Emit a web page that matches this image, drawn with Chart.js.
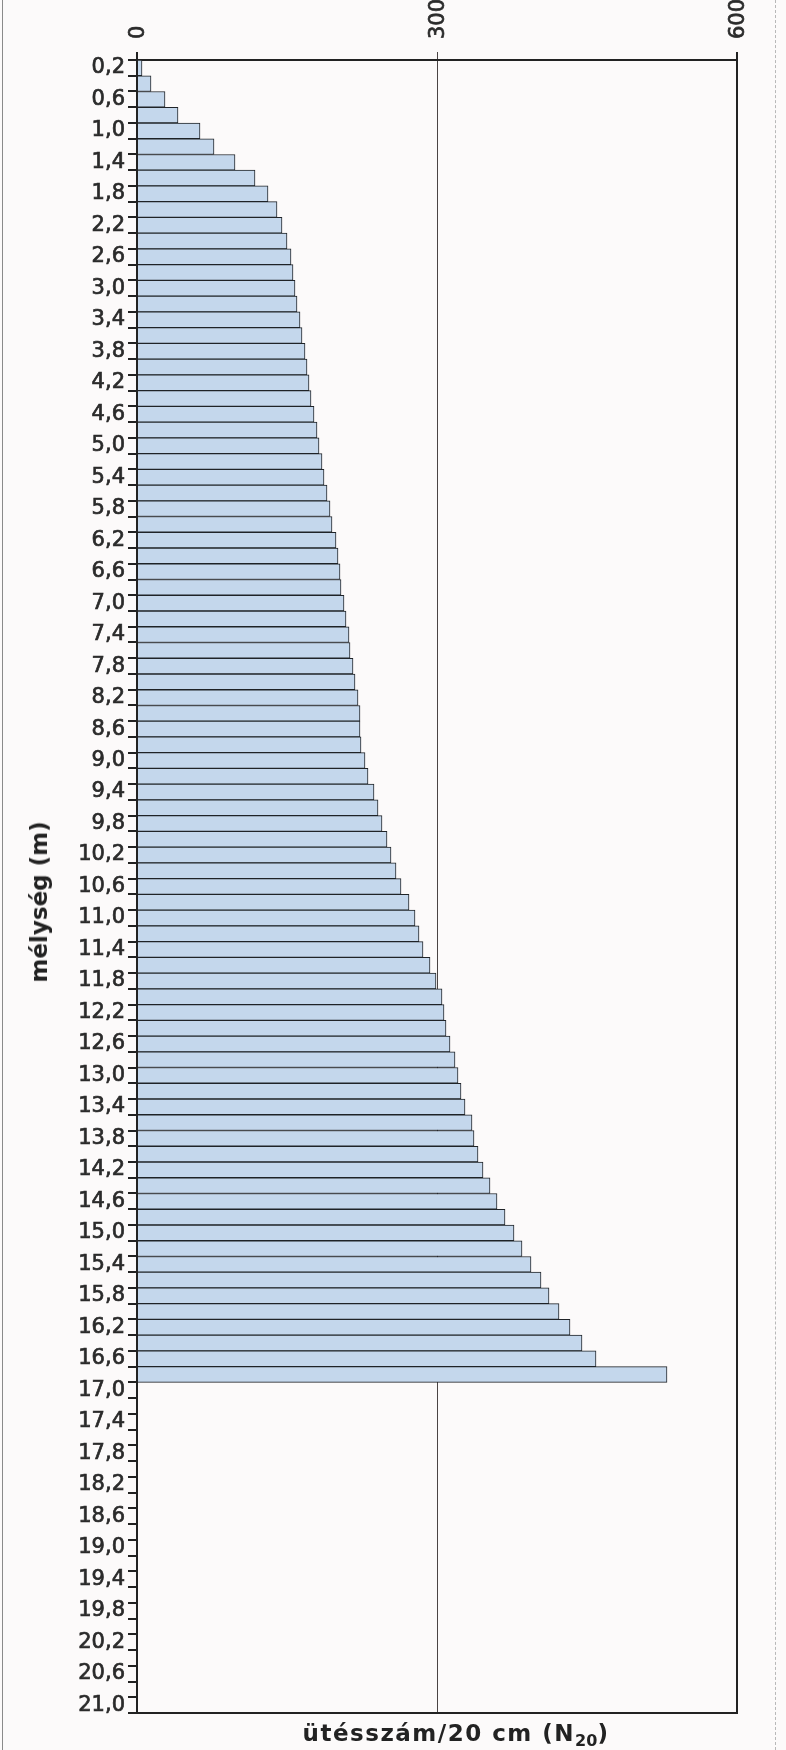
<!DOCTYPE html>
<html>
<head>
<meta charset="utf-8">
<script src="https://cdn.jsdelivr.net/npm/chart.js@4/dist/chart.umd.min.js"></script>
<style>
  html, body { margin: 0; padding: 0; background: #fcfafa; }
  #page { position: relative; width: 786px; height: 1750px; overflow: hidden; }
  #page::before { content: ""; position: absolute; left: 2px; top: 0; bottom: 0; border-left: 1px solid #8a8a8a; }
  #page::after { content: ""; position: absolute; left: 775px; top: 0; bottom: 0; border-left: 1px dashed #b8b8b8; }
  canvas { position: absolute; left: 0; top: 0; }
  .axis-title { position: absolute; font-family: "DejaVu Sans", Verdana, sans-serif; font-weight: bold; font-size: 23px; color: #222; white-space: nowrap; }
  #xTitle { left: 456px; top: 1733px; transform: translate(-50%, -50%); letter-spacing: 1.5px; }
  #xTitle sub { font-size: 16px; vertical-align: -5px; line-height: 0; letter-spacing: 0; }
  #yTitle { left: 39px; top: 902px; transform: translate(-50%, -50%) rotate(-90deg); }
</style>
</head>
<body>
<div id="page">
  <canvas id="chart" width="786" height="1750"></canvas>
  <div id="yTitle" class="axis-title">mélység (m)</div>
  <div id="xTitle" class="axis-title">ütésszám/20 cm (N<sub>20</sub>)</div>
</div>
<script>
// Depth intervals of the dynamic probing log (m), 0.2 m steps
const depthLabels = [
  '0,2','0,4','0,6','0,8','1,0','1,2','1,4','1,6','1,8','2,0',
  '2,2','2,4','2,6','2,8','3,0','3,2','3,4','3,6','3,8','4,0',
  '4,2','4,4','4,6','4,8','5,0','5,2','5,4','5,6','5,8','6,0',
  '6,2','6,4','6,6','6,8','7,0','7,2','7,4','7,6','7,8','8,0',
  '8,2','8,4','8,6','8,8','9,0','9,2','9,4','9,6','9,8','10,0',
  '10,2','10,4','10,6','10,8','11,0','11,2','11,4','11,6','11,8','12,0',
  '12,2','12,4','12,6','12,8','13,0','13,2','13,4','13,6','13,8','14,0',
  '14,2','14,4','14,6','14,8','15,0','15,2','15,4','15,6','15,8','16,0',
  '16,2','16,4','16,6','16,8','17,0','17,2','17,4','17,6','17,8','18,0',
  '18,2','18,4','18,6','18,8','19,0','19,2','19,4','19,6','19,8','20,0',
  '20,2','20,4','20,6','20,8','21,0'
];

// Blow counts per 20 cm penetration (N20), from 0,2 m down to 16,8 m
const blowCounts = [
  5, 14, 28, 41, 63, 77, 98, 118, 131, 140,
  145, 150, 154, 156, 158, 160, 163, 165, 168, 170,
  172, 174, 177, 180, 182, 185, 187, 190, 193, 195,
  199, 201, 203, 204, 207, 209, 212, 213, 216, 218,
  221, 223, 223, 224, 228, 231, 237, 241, 245, 250,
  254, 259, 264, 272, 278, 282, 286, 293, 299, 305,
  307, 309, 313, 318, 321, 324, 328, 335, 337, 341,
  346, 353, 360, 368, 377, 385, 394, 404, 412, 422,
  433, 445, 459, 530
];

// Value axis ticks
const valueTicks = [0, 300, 600];

const tickFont = { family: '"DejaVu Sans", Verdana, sans-serif', size: 21, lineHeight: 1.2 };
const inkColor = '#2a2a2a';

new Chart(document.getElementById('chart'), {
  type: 'bar',
  data: {
    labels: depthLabels,
    datasets: [{
      data: blowCounts,
      backgroundColor: '#c4d7ec',
      borderColor: '#1f2327',
      borderWidth: { top: 1, bottom: 1, right: 1, left: 0 },
      borderSkipped: 'start',
      barPercentage: 1,
      categoryPercentage: 1
    }]
  },
  options: {
    indexAxis: 'y',
    responsive: false,
    animation: false,
    events: [],
    layout: { padding: { left: 0, right: 49, top: 0, bottom: 0 } },
    plugins: { legend: { display: false }, tooltip: { enabled: false } },
    scales: {
      x: {
        type: 'linear',
        position: 'top',
        min: valueTicks[0],
        max: valueTicks[valueTicks.length - 1],
        afterBuildTicks: (s) => { s.ticks = valueTicks.map(v => ({ value: v })); },
        afterFit: (s) => { s.height = 60; },
        ticks: {
          minRotation: 90,
          maxRotation: 90,
          padding: 13,
          labelOffset: 27,
          color: inkColor,
          textStrokeColor: inkColor,
          textStrokeWidth: 0.7,
          font: tickFont
        },
        grid: {
          color: (ctx) => (ctx.tick && ctx.tick.value === 300) ? '#4a4444' : '#222',
          lineWidth: (ctx) => (ctx.tick && ctx.tick.value === 300) ? 1 : 2,
          tickLength: 8
        },
        border: { color: '#222', width: 2 }
      },
      x2: {
        type: 'linear',
        position: 'bottom',
        min: valueTicks[0],
        max: valueTicks[valueTicks.length - 1],
        afterFit: (s) => { s.height = 37; },
        ticks: { display: false },
        grid: { display: false },
        border: { color: '#222', width: 2 }
      },
      y: {
        type: 'category',
        position: 'left',
        afterFit: (s) => { s.width = 137; },
        ticks: {
          autoSkip: false,
          padding: 3,
          color: inkColor,
          textStrokeColor: inkColor,
          textStrokeWidth: 0.7,
          font: tickFont,
          callback: function (value, index) {
            return index % 2 === 0 ? this.getLabelForValue(value) : '';
          }
        },
        grid: {
          offset: true,
          drawOnChartArea: false,
          tickLength: 9,
          color: '#222',
          lineWidth: 2
        },
        border: { color: '#222', width: 2 }
      }
    }
  }
});
</script>
</body>
</html>
